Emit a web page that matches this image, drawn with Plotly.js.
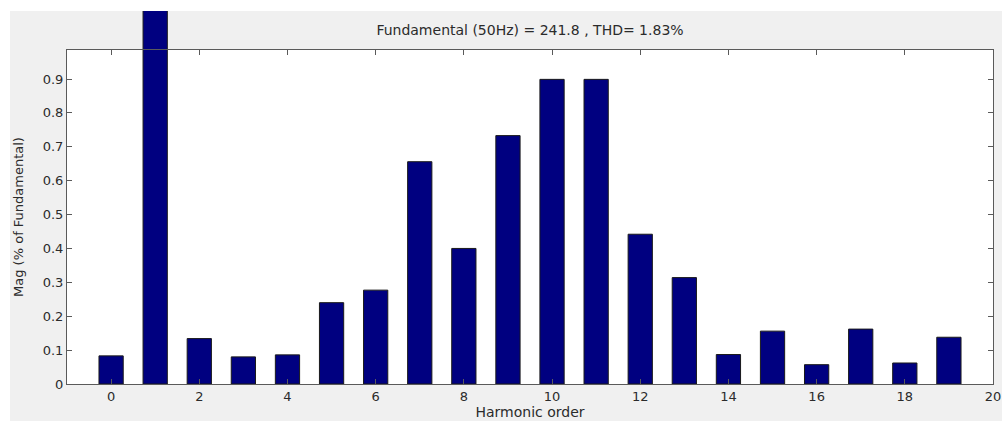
<!DOCTYPE html>
<html>
<head>
<meta charset="utf-8">
<script src="https://cdn.plot.ly/plotly-3.0.1.min.js"></script>
<style>
  html, body { margin: 0; padding: 0; background: #ffffff; width: 1002px; height: 421px; overflow: hidden; }
  #chart { position: absolute; left: 10px; top: 11px; width: 992px; height: 410px; }
</style>
</head>
<body>
<div id="chart"></div>
<script>
// Harmonic orders and magnitudes (% of fundamental)
const harmonicOrder = [0, 1, 2, 3, 4, 5, 6, 7, 8, 9, 10, 11, 12, 13, 14, 15, 16, 17, 18, 19];
const magnitude = [0.083, 100, 0.134, 0.080, 0.086, 0.240, 0.277, 0.656, 0.400, 0.733, 0.899, 0.899, 0.442, 0.314, 0.087, 0.156, 0.057, 0.162, 0.062, 0.138];
const yTickVals = [0, 0.1, 0.2, 0.3, 0.4, 0.5, 0.6, 0.7, 0.8, 0.9];
const yTickText = ["0", "0.1", "0.2", "0.3", "0.4", "0.5", "0.6", "0.7", "0.8", "0.9"];
const xTickVals = [0, 2, 4, 6, 8, 10, 12, 14, 16, 18, 20];
const xTickText = ["0", "2", "4", "6", "8", "10", "12", "14", "16", "18", "20"];
const titleText = "Fundamental (50Hz) = 241.8 , THD= 1.83%";
const xTitle = "Harmonic order";
const yTitle = "Mag (% of Fundamental)";

const FONT = "DejaVu Sans, Arial, sans-serif";
const TXT = "#2b2b2b";
const AX = "#5a5a5a";

// frame axes occupy lower part; bar axes extend to top of figure (unclipped look)
const frameTop = 0.8954;      // fraction of plot height used by visible axes box
const frameYMax = 0.9856;
const fullYMax = frameYMax / frameTop;

const data = [
  {
    type: "bar",
    x: harmonicOrder,
    y: magnitude,
    xaxis: "x",
    yaxis: "y",
    width: 0.55,
    marker: { color: "#000080", line: { color: "#1a1a1a", width: 1 } },
    hoverinfo: "x+y"
  },
  {
    type: "bar",
    x: [],
    y: [],
    xaxis: "x2",
    yaxis: "y2",
    showlegend: false,
    hoverinfo: "skip"
  }
];

const layout = {
  width: 992,
  height: 410,
  paper_bgcolor: "#f0f0f0",
  plot_bgcolor: "rgba(0,0,0,0)",
  showlegend: false,
  margin: { l: 57, r: 9, t: 0, b: 37, pad: 0 },
  title: {
    text: titleText,
    font: { family: FONT, size: 14, color: TXT },
    x: 0.5, xanchor: "center", xref: "paper",
    y: 1 - 19 / 410, yanchor: "middle", yref: "container"
  },
  shapes: [
    { type: "rect", xref: "paper", yref: "paper", x0: 0, x1: 1, y0: 0, y1: frameTop,
      fillcolor: "#ffffff", line: { width: 0 }, layer: "below" }
  ],
  xaxis: {
    domain: [0, 1], range: [-1, 20], visible: false, fixedrange: true
  },
  yaxis: {
    domain: [0, 1], range: [0, fullYMax], visible: false, fixedrange: true
  },
  xaxis2: {
    domain: [0, 1], anchor: "y2", range: [-1, 20],
    tickmode: "array", tickvals: xTickVals, ticktext: xTickText,
    ticks: "inside", ticklen: 5, tickwidth: 1, tickcolor: AX,
    showline: true, linecolor: AX, linewidth: 1, mirror: "ticks",
    showgrid: false, zeroline: false,
    tickfont: { family: FONT, size: 13, color: TXT },
    title: { text: xTitle, font: { family: FONT, size: 14, color: TXT }, standoff: 2 },
    automargin: false
  },
  yaxis2: {
    domain: [0, frameTop], anchor: "x2", range: [0, frameYMax],
    tickmode: "array", tickvals: yTickVals, ticktext: yTickText,
    ticks: "inside", ticklen: 5, tickwidth: 1, tickcolor: AX,
    showline: true, linecolor: AX, linewidth: 1, mirror: "ticks",
    showgrid: false, zeroline: false,
    tickfont: { family: FONT, size: 13, color: TXT },
    title: { text: yTitle, font: { family: FONT, size: 13, color: TXT }, standoff: 16 },
    automargin: false
  }
};

Plotly.newPlot("chart", data, layout, { displayModeBar: false, staticPlot: true });
</script>
</body>
</html>
